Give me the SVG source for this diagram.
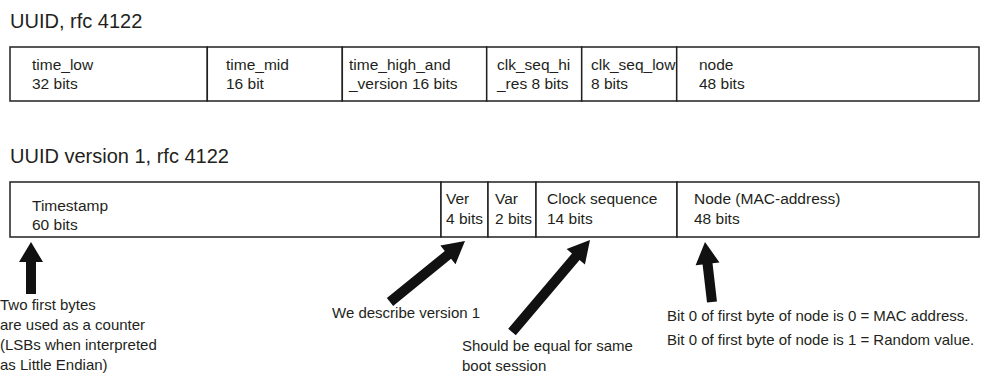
<svg xmlns="http://www.w3.org/2000/svg" width="986" height="376" viewBox="0 0 986 376">
<style>
.cell{fill:#fff;stroke:#231f20;stroke-width:1.5}
text{font-family:"Liberation Sans",Arial,sans-serif;fill:#231f20}
.t{font-size:15.5px}
.h{font-size:20px}
.a{font-size:15px}
.arr{fill:#111}
</style>
<rect width="986" height="376" fill="#fff"/>
<text class="h" x="10" y="28">UUID, rfc 4122</text>
<text class="h" x="10" y="163">UUID version 1, rfc 4122</text>
<g id="uuid-generic">
<g id="time_low"><rect class="cell" x="10" y="47" width="197.3" height="54"/><text class="t" x="32" y="70">time_low</text><text class="t" x="32" y="89">32 bits</text></g>
<g id="time_mid"><rect class="cell" x="207.3" y="47" width="135" height="54"/><text class="t" x="226" y="70">time_mid</text><text class="t" x="226" y="89">16 bit</text></g>
<g id="time_high"><rect class="cell" x="342.3" y="47" width="144.4" height="54"/><text class="t" x="349" y="70">time_high_and</text><text class="t" x="349" y="89">_version 16 bits</text></g>
<g id="clk_seq_hi"><rect class="cell" x="486.7" y="47" width="95" height="54"/><text class="t" x="497" y="70">clk_seq_hi</text><text class="t" x="497" y="89">_res 8 bits</text></g>
<g id="clk_seq_low"><rect class="cell" x="581.7" y="47" width="95" height="54"/><text class="t" x="591" y="70">clk_seq_low</text><text class="t" x="591" y="89">8 bits</text></g>
<g id="node"><rect class="cell" x="676.7" y="47" width="302.3" height="54"/><text class="t" x="699" y="70">node</text><text class="t" x="699" y="89">48 bits</text></g>
</g>
<g id="uuid-v1">
<g id="timestamp"><rect class="cell" x="10" y="182" width="431" height="55"/><text class="t" x="32" y="211">Timestamp</text><text class="t" x="32" y="230">60 bits</text></g>
<g id="ver"><rect class="cell" x="441" y="182" width="47" height="55"/><text class="t" x="446" y="204">Ver</text><text class="t" x="446" y="224">4 bits</text></g>
<g id="var"><rect class="cell" x="488" y="182" width="48" height="55"/><text class="t" x="495" y="204">Var</text><text class="t" x="495" y="224">2 bits</text></g>
<g id="clock-seq"><rect class="cell" x="536" y="182" width="141" height="55"/><text class="t" x="547" y="204">Clock sequence</text><text class="t" x="547" y="224">14 bits</text></g>
<g id="node-mac"><rect class="cell" x="677" y="182" width="302" height="55"/><text class="t" x="694" y="204">Node (MAC-address)</text><text class="t" x="694" y="224">48 bits</text></g>
</g>
<g id="connectors">
<polygon class="arr" points="26,294 26,262 19,262 31,242 43,262 36,262 36,294"/>
<polygon class="arr" points="393.15,305.88 451.08,258.76 455.5,264.19 465,241 440.36,245.57 444.78,251 386.85,298.12"/>
<polygon class="arr" points="515.81,335.23 579.58,260.01 584.92,264.54 590,240 566.62,249.02 571.96,253.55 508.19,328.77"/>
<polygon class="arr" points="716.97,301.42 712.52,263.27 719.47,262.46 705,242 695.63,265.24 702.58,264.43 707.03,302.58"/>
</g>
<g id="notes">
<text class="a" x="0" y="310">Two first bytes</text>
<text class="a" x="0" y="330">are used as a counter</text>
<text class="a" x="0" y="350">(LSBs when interpreted</text>
<text class="a" x="0" y="370">as Little Endian)</text>
<text class="a" x="332" y="318">We describe version 1</text>
<text class="a" x="462" y="351">Should be equal for same</text>
<text class="a" x="462" y="371">boot session</text>
<text class="a" x="667" y="321">Bit 0 of first byte of node is 0 = MAC address.</text>
<text class="a" x="667" y="345">Bit 0 of first byte of node is 1 = Random value.</text>
</g>
</svg>
